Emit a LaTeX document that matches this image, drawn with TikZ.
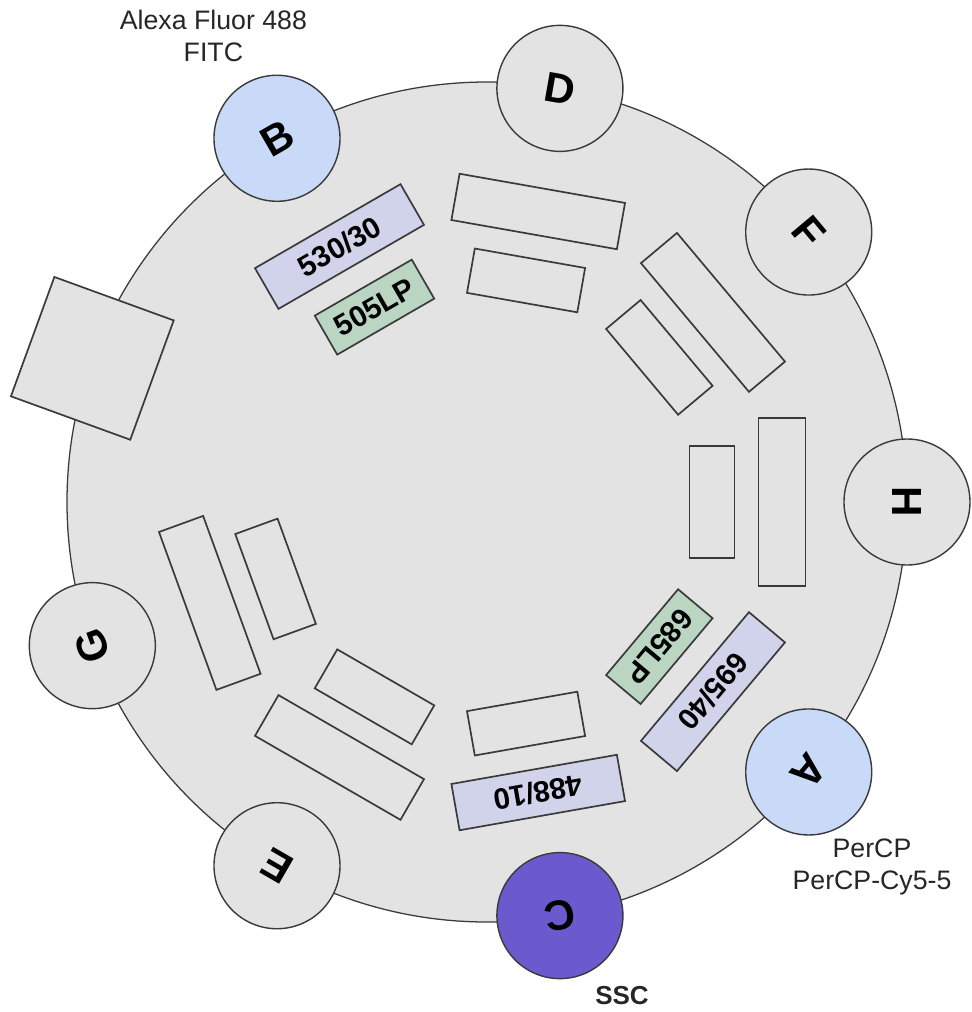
\documentclass[tikz,border=0pt]{standalone}
\usepackage{fontspec}
\setmainfont{Liberation Sans}
\definecolor{wheelgray}{HTML}{E3E3E3}
\definecolor{linegray}{HTML}{3A3A3A}
\definecolor{dyeblue}{HTML}{C9DAF8}
\definecolor{sscpurple}{HTML}{6A5ACD}
\definecolor{bandpass}{HTML}{D0D3EA}
\definecolor{longpass}{HTML}{BAD6C3}
\begin{document}
\begin{tikzpicture}[
        wheel/.style={circle, draw=linegray, fill=wheelgray, line width=0.9pt, minimum size=21cm, inner sep=0pt},
        det/.style={circle, draw=linegray, fill=wheelgray, line width=1pt, minimum size=3.15cm, inner sep=0pt, font=\fontsize{30}{30}\selectfont\bfseries},
        laser/.style={det, fill=dyeblue},
        side/.style={det, fill=sscpurple},
        outer/.style={rectangle, draw=linegray, fill=wheelgray, line width=1.2pt, minimum width=4.2cm, minimum height=1.175cm, inner sep=0pt, font=\fontsize{21}{21}\selectfont\bfseries},
        inner/.style={outer, minimum width=2.8cm, minimum height=1.125cm},
        bp/.style={outer, fill=bandpass},
        lp/.style={inner, fill=longpass},
        dye/.style={align=center, text=black!85, font=\fontsize{19}{23}\selectfont}
    ]
    
    \useasboundingbox (-12.175,-12.75) rectangle (12.125,12.55);
    \node[wheel] (wheel) at (0,0) {};
    
    % filter pairs
    \node[outer, rotate=-90] (fH) at (0:7.375) {};
    \node[inner, rotate=-90] (mH) at (0:5.625) {};
    \node[outer, rotate=-50] (fF) at (40:7.375) {};
    \node[inner, rotate=-50] (mF) at (40:5.625) {};
    \node[outer, rotate=-10] (fD) at (80:7.375) {};
    \node[inner, rotate=-10] (mD) at (80:5.625) {};
    \node[bp, rotate=30] (fB) at (120:7.375) {530/30};
    \node[lp, rotate=30] (mB) at (120:5.625) {505LP};
    \node[outer, rotate=110] (fG) at (200:7.375) {};
    \node[inner, rotate=110] (mG) at (200:5.625) {};
    \node[outer, rotate=150] (fE) at (240:7.375) {};
    \node[inner, rotate=150] (mE) at (240:5.625) {};
    \node[bp, rotate=190] (fC) at (280:7.375) {488/10};
    \node[inner, rotate=190] (mC) at (280:5.625) {};
    \node[bp, rotate=230] (fA) at (320:7.375) {695/40};
    \node[lp, rotate=230] (mA) at (320:5.625) {685LP};
    
    % detectors
    \node[det, rotate=-90] (H) at (0:10.5) {H};
    \node[det, rotate=-50] (F) at (40:10.5) {F};
    \node[det, rotate=-10] (D) at (80:10.5) {D};
    \node[laser, rotate=30] (B) at (120:10.5) {B};
    \node[outer, minimum width=3.175cm, minimum height=3.175cm, rotate=70] (port) at (160:10.5) {};
    \node[det, rotate=110] (G) at (200:10.5) {G};
    \node[det, rotate=150] (E) at (240:10.5) {E};
    \node[side, rotate=190] (C) at (280:10.5) {C};
    \node[laser, rotate=230] (A) at (320:10.5) {A};
    
    \node[dye] (fitc) at (-6.84,11.65) {Alexa Fluor 488\\FITC};
    \node[dye] (percp) at (9.625,-9.125) {PerCP\\PerCP-Cy5-5};
    \node[dye, font=\fontsize{18.5}{22}\selectfont\bfseries] (ssc) at (3.375,-12.35) {SSC};
    
    \end{tikzpicture}
\end{document}
